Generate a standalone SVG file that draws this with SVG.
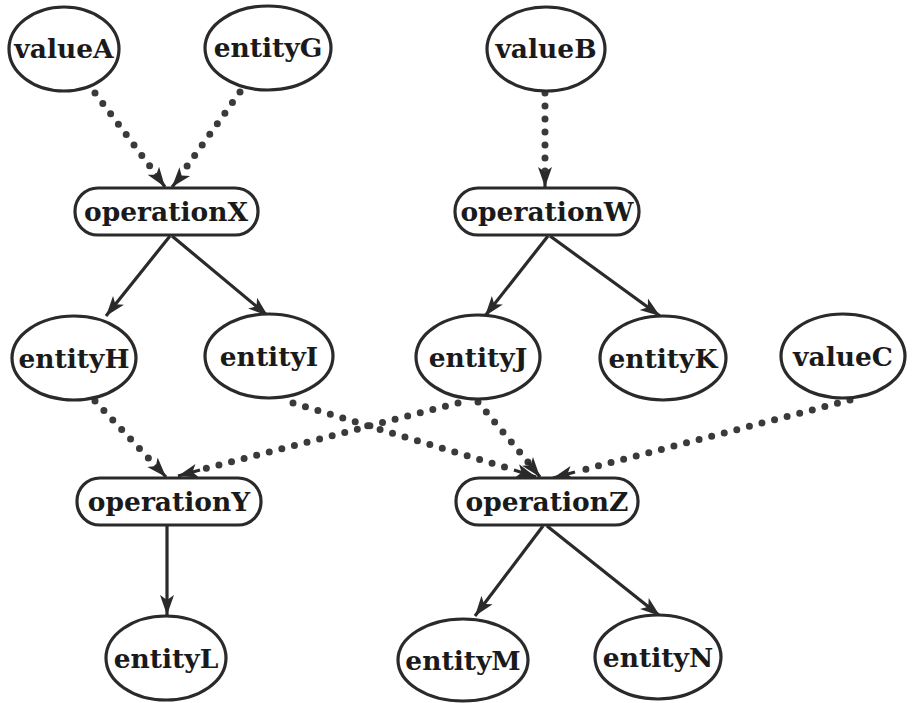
<svg xmlns="http://www.w3.org/2000/svg" width="919" height="703" viewBox="0 0 919 703">
<defs>
<style>
.n{fill:#fff;stroke:#2a2a2a;stroke-width:3.2}
.t{font-family:"DejaVu Serif","Liberation Serif",serif;font-weight:bold;font-size:26.5px;fill:#1a1a1a;text-anchor:middle;dominant-baseline:central}
.s{fill:none;stroke:#2a2a2a;stroke-width:3.2}
.d{fill:none;stroke:#3a3a3a;stroke-width:7;stroke-linecap:round;stroke-dasharray:0 13}
</style>
<marker id="a" markerUnits="userSpaceOnUse" markerWidth="24" markerHeight="16" refX="20" refY="8" orient="auto">
<path d="M0,1 L20,8 L0,15 L5,8 z" fill="#2a2a2a"/>
</marker>
</defs>
<rect width="919" height="703" fill="#fff"/>
<g id="connectors">
<path class="d" d="M95,93 L158,177"/>
<path class="s" d="M160,180 L165,187" marker-end="url(#a)"/>
<path class="d" d="M240,92 L180,176"/>
<path class="s" d="M177,181 L172,187" marker-end="url(#a)"/>
<path class="d" d="M545,93 L545,172"/>
<path class="s" d="M545,172 L545,187" marker-end="url(#a)"/>
<path class="s" d="M170,236 L106,316" marker-end="url(#a)"/>
<path class="s" d="M172,236 L268,316" marker-end="url(#a)"/>
<path class="s" d="M548,236 L485,316" marker-end="url(#a)"/>
<path class="s" d="M550,236 L660,316" marker-end="url(#a)"/>
<path class="d" d="M95,401 L155,465"/>
<path class="s" d="M155,465 L166,477" marker-end="url(#a)"/>
<path class="d" d="M458,403 L200,470"/>
<path class="s" d="M200,470 L178,476" marker-end="url(#a)"/>
<path class="d" d="M293,403 L514,470"/>
<path class="s" d="M514,470 L536,477" marker-end="url(#a)"/>
<path class="d" d="M478,402 L528,462"/>
<path class="s" d="M528,462 L540,477" marker-end="url(#a)"/>
<path class="d" d="M850,400 L575,472"/>
<path class="s" d="M575,472 L553,478" marker-end="url(#a)"/>
<path class="s" d="M167,526 L167,615" marker-end="url(#a)"/>
<path class="s" d="M543,526 L475,616" marker-end="url(#a)"/>
<path class="s" d="M547,526 L660,616" marker-end="url(#a)"/>
</g>
<g id="valueA"><ellipse class="n" cx="64" cy="49" rx="55" ry="42"/><text class="t" x="64" y="48">valueA</text></g>
<g id="entityG"><ellipse class="n" cx="268" cy="48" rx="63" ry="42"/><text class="t" x="268" y="47">entityG</text></g>
<g id="valueB"><ellipse class="n" cx="546" cy="49" rx="59" ry="42"/><text class="t" x="546" y="48">valueB</text></g>
<g id="operationX"><rect class="n" x="75" y="188" width="183" height="47" rx="23"/><text class="t" x="166" y="211">operationX</text></g>
<g id="operationW"><rect class="n" x="455" y="188" width="184" height="47" rx="23"/><text class="t" x="547" y="211">operationW</text></g>
<g id="entityH"><ellipse class="n" cx="74" cy="358" rx="62" ry="42"/><text class="t" x="74" y="358">entityH</text></g>
<g id="entityI"><ellipse class="n" cx="269" cy="356" rx="64" ry="42"/><text class="t" x="269" y="356">entityI</text></g>
<g id="entityJ"><ellipse class="n" cx="478" cy="357" rx="62" ry="42"/><text class="t" x="478" y="357">entityJ</text></g>
<g id="entityK"><ellipse class="n" cx="663" cy="358" rx="63" ry="42"/><text class="t" x="663" y="358">entityK</text></g>
<g id="valueC"><ellipse class="n" cx="843" cy="356" rx="62" ry="42"/><text class="t" x="843" y="356">valueC</text></g>
<g id="operationY"><rect class="n" x="77" y="478" width="184" height="47" rx="23"/><text class="t" x="169" y="501">operationY</text></g>
<g id="operationZ"><rect class="n" x="456" y="478" width="182" height="47" rx="23"/><text class="t" x="547" y="501">operationZ</text></g>
<g id="entityL"><ellipse class="n" cx="166" cy="658" rx="60" ry="42"/><text class="t" x="166" y="658">entityL</text></g>
<g id="entityM"><ellipse class="n" cx="463" cy="660" rx="65" ry="41"/><text class="t" x="463" y="660">entityM</text></g>
<g id="entityN"><ellipse class="n" cx="658" cy="657" rx="63" ry="42"/><text class="t" x="658" y="657">entityN</text></g>
</svg>
